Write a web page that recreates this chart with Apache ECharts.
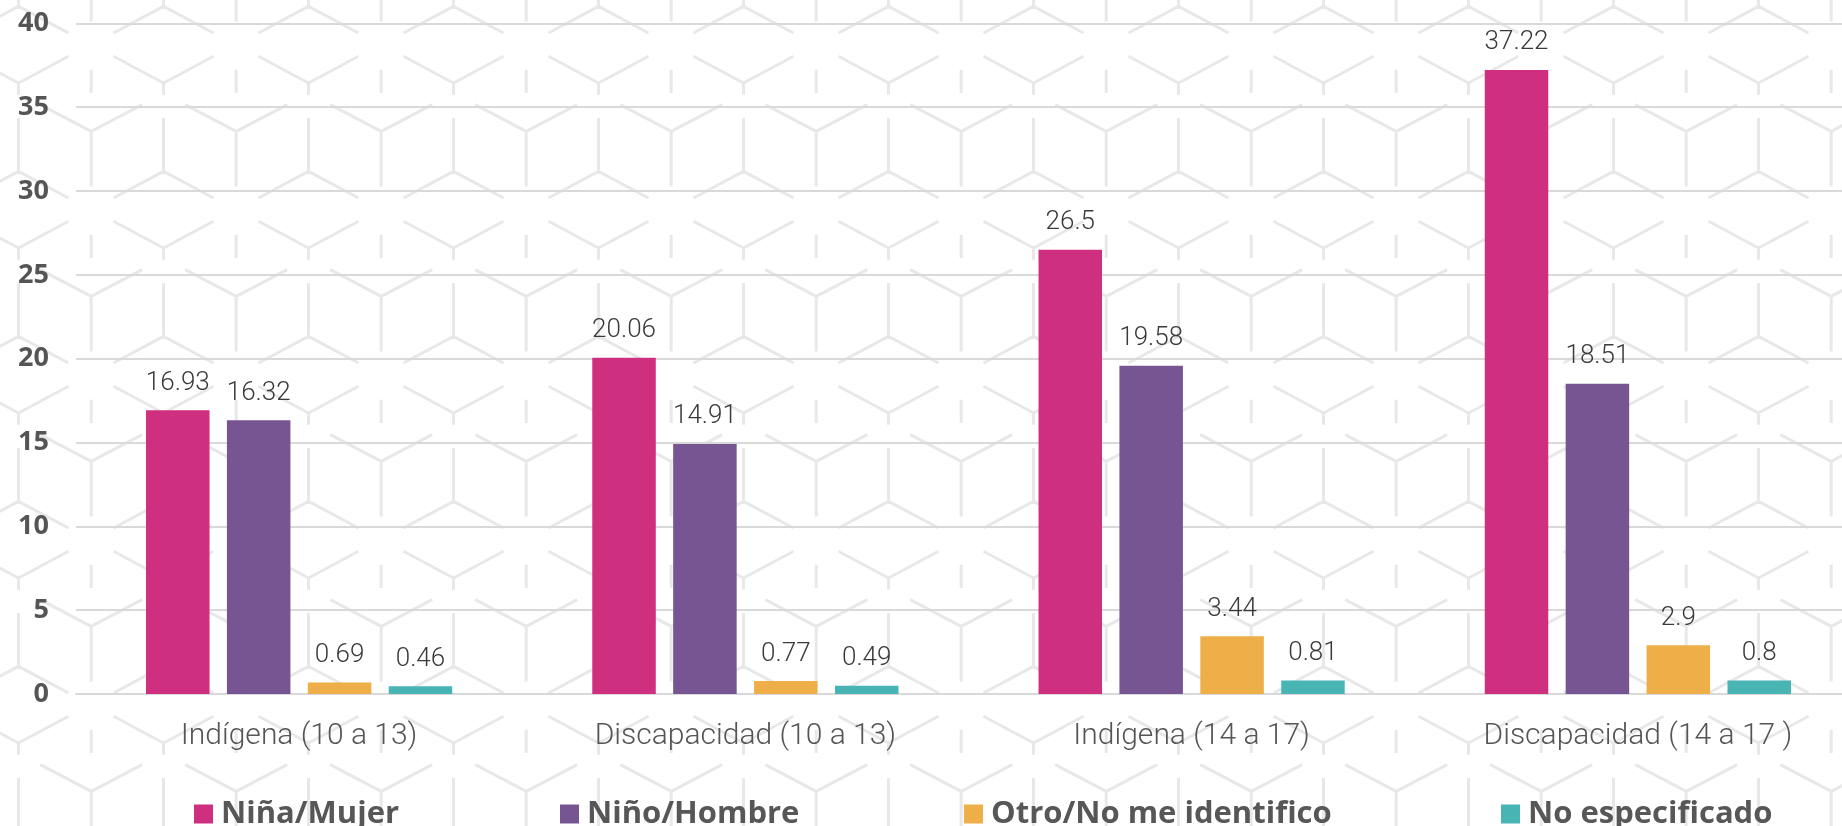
<!DOCTYPE html>
<html>
<head>
<meta charset="utf-8">
<script src="https://cdn.jsdelivr.net/npm/echarts@6/dist/echarts.min.js"></script>
<style>
  html, body { margin: 0; padding: 0; background: #ffffff; }
  #chart { width: 1842px; height: 826px; }
</style>
</head>
<body>
<div id="chart"></div>
<script>
const categories = ['Indígena (10 a 13)', 'Discapacidad (10 a 13)', 'Indígena (14 a 17)', 'Discapacidad (14 a 17 )'];
const seriesNames = ['Niña/Mujer', 'Niño/Hombre', 'Otro/No me identifico', 'No especificado'];
const ninaMujer = [16.93, 20.06, 26.5, 37.22];
const ninoHombre = [16.32, 14.91, 19.58, 18.51];
const otroNoMeIdentifico = [0.69, 0.77, 3.44, 2.9];
const noEspecificado = [0.46, 0.49, 0.81, 0.8];
const seriesColors = ['#CE2F7E', '#775492', '#EEAE48', '#48B4B4'];
const yTicks = [0, 5, 10, 15, 20, 25, 30, 35, 40];

// decorative background pattern (cube outline motif)
(function () {
  const segs = [
    [-50,-26.7,0,0],[0,0,50,-26.7],[0,0,0,11.7],
    [72.7,-13.3,72.7,10],
    [21.7,21.7,72.7,48.4],[72.7,48.4,123.7,21.7],[72.7,48.4,72.7,103.4],
    [0,35,0,88.4],[0,88.4,-50,115],[0,88.4,50,115]
  ];
  const W = 145, H = 165, ox = 72.5, oy = 40;
  let d = '';
  for (const dx of [-W, 0, W]) for (const dy of [-H, 0, H]) {
    for (const s of segs) {
      d += 'M' + (s[0]+ox+dx).toFixed(1) + ' ' + (s[1]+oy+dy).toFixed(1) + 'L' + (s[2]+ox+dx).toFixed(1) + ' ' + (s[3]+oy+dy).toFixed(1);
    }
  }
  const svg = '<svg xmlns="http://www.w3.org/2000/svg" width="' + W + '" height="' + H + '"><path d="' + d + '" stroke="#e8e8e8" stroke-width="3" fill="none" stroke-linecap="butt" stroke-linejoin="round"/></svg>';
  const el = document.getElementById('chart');
  el.style.backgroundImage = 'url("data:image/svg+xml;utf8,' + encodeURIComponent(svg) + '")';
  el.style.backgroundRepeat = 'repeat';
  el.style.backgroundPosition = '380.8px 43.3px';
})();

const chart = echarts.init(document.getElementById('chart'), null, { renderer: 'canvas' });
const dataArrays = [ninaMujer, ninoHombre, otroNoMeIdentifico, noEspecificado];
const legendLefts = [189, 555, 959, 1496];

const option = {
  animation: false,
  backgroundColor: 'transparent',
  grid: { left: 76, width: 1785, top: 23.3, height: 670.7, containLabel: false, outerBoundsMode: 'none' },
  legend: seriesNames.map((n, i) => ({
    data: [n],
    left: legendLefts[i],
    top: 793,
    orient: 'horizontal',
    itemWidth: 19,
    itemHeight: 19,
    icon: 'rect',
    textStyle: {
      fontFamily: 'Open Sans',
      fontWeight: 'bold',
      fontSize: 31,
      color: '#575757',
      lineHeight: 32,
      padding: [0, 0, 0, 3]
    }
  })),
  xAxis: {
    type: 'category',
    data: categories,
    axisTick: { show: false },
    axisLine: { show: true, lineStyle: { color: '#d9d9d9', width: 2 } },
    axisLabel: {
      margin: 27,
      fontFamily: 'Roboto',
      fontWeight: 300,
      fontSize: 30,
      color: '#555555'
    }
  },
  yAxis: {
    type: 'value',
    min: yTicks[0],
    max: yTicks[yTicks.length - 1],
    interval: 5,
    axisLine: { show: false },
    axisTick: { show: false },
    splitLine: { lineStyle: { color: '#d9d9d9', width: 2 } },
    axisLabel: {
      margin: 27,
      fontFamily: 'Open Sans',
      fontWeight: 'bold',
      fontSize: 27,
      color: '#555555'
    }
  },
  series: seriesNames.map((n, i) => ({
    name: n,
    type: 'bar',
    data: dataArrays[i],
    barWidth: 63.5,
    barGap: '27.4%',
    itemStyle: { color: seriesColors[i] },
    label: {
      show: true,
      position: 'top',
      distance: 14,
      fontFamily: 'Roboto',
      fontWeight: 300,
      fontSize: 26,
      color: '#3a3a3a'
    }
  }))
};
chart.setOption(option);
</script>
</body>
</html>
